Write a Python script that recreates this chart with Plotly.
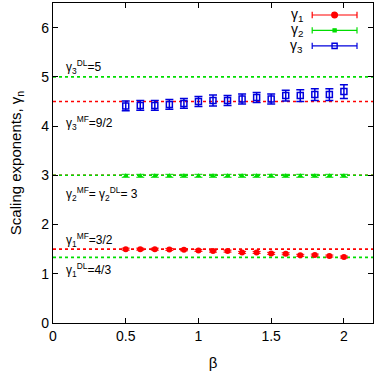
import plotly.graph_objects as go

beta = [0.5, 0.6, 0.7, 0.8, 0.9, 1.0, 1.1, 1.2, 1.3, 1.4, 1.5, 1.6, 1.7, 1.8, 1.9, 2.0]
gamma1 = [1.50, 1.50, 1.50, 1.495, 1.487, 1.475, 1.46, 1.46, 1.434, 1.434, 1.414, 1.406, 1.375, 1.38, 1.36, 1.34]
gamma1_err = [0.02] * 16
gamma2 = [2.99] * 16
gamma2_err = [0.03] * 16
gamma3 = [4.41, 4.42, 4.42, 4.44, 4.46, 4.50, 4.52, 4.52, 4.55, 4.58, 4.55, 4.62, 4.62, 4.64, 4.64, 4.70]
gamma3_err = [0.10, 0.10, 0.10, 0.10, 0.10, 0.10, 0.11, 0.10, 0.10, 0.10, 0.10, 0.11, 0.12, 0.12, 0.12, 0.14]

ref_values = [5.0, 4.5, 3.0, 3.0, 1.5, 4.0 / 3.0]
ref_colors = ["#00dd00", "#ff0000", "#ff0000", "#00dd00", "#ff0000", "#00dd00"]

labels = ["γ<sub>3</sub><sup>DL</sup>=5", "γ<sub>3</sub><sup>MF</sup>=9/2",
          "γ<sub>2</sub><sup>MF</sup>= γ<sub>2</sub><sup>DL</sup>= 3",
          "γ<sub>1</sub><sup>MF</sup>=3/2", "γ<sub>1</sub><sup>DL</sup>=4/3"]
label_y = [5.19, 4.06, 2.62, 1.68, 1.07]

series_names = ["γ<sub>1</sub>", "γ<sub>2</sub>", "γ<sub>3</sub>"]
colors = ["#ff0000", "#00dd00", "#0000dd"]

FONT = "Liberation Sans, Arial, sans-serif"

fig = go.Figure()

for v, c in zip(ref_values, ref_colors):
    fig.add_shape(type="line", xref="paper", x0=0, x1=1, yref="y", y0=v, y1=v,
                  line=dict(color=c, width=1.6, dash="dot"), layer="below")

fig.add_trace(go.Scatter(x=beta, y=gamma1, mode="markers",
                         marker=dict(color=colors[0], size=6, symbol="circle"),
                         error_y=dict(type="data", array=gamma1_err, color=colors[0], thickness=1, width=4),
                         showlegend=False))
fig.add_trace(go.Scatter(x=beta, y=gamma2, mode="markers",
                         marker=dict(color=colors[1], size=5, symbol="triangle-up"),
                         error_y=dict(type="data", array=gamma2_err, color=colors[1], thickness=1, width=4),
                         showlegend=False))
fig.add_trace(go.Scatter(x=beta, y=gamma3, mode="markers",
                         marker=dict(color="rgba(0,0,0,0)", size=6, symbol="square",
                                     line=dict(color=colors[2], width=1.5)),
                         error_y=dict(type="data", array=gamma3_err, color=colors[2], thickness=1.5, width=4),
                         showlegend=False))

for t, y in zip(labels, label_y):
    fig.add_annotation(x=0.075, y=y, xref="x", yref="y", text=t, showarrow=False,
                       xanchor="left", yanchor="middle", font=dict(size=12, color="black", family=FONT))

# manual legend (gnuplot style: label left, sample right)
leg_y = [0.9625, 0.9145, 0.866]
for i, (name, c, ly) in enumerate(zip(series_names, colors, leg_y)):
    fig.add_annotation(x=0.785, y=ly, xref="paper", yref="paper", text=name, showarrow=False,
                       xanchor="right", yanchor="middle", font=dict(size=14, color="black", family=FONT),
                       borderpad=0)
    fig.add_shape(type="line", xref="paper", yref="paper", x0=0.81, x1=0.95, y0=ly, y1=ly,
                  line=dict(color=c, width=1.2))
    for xe in (0.81, 0.95):
        fig.add_shape(type="line", xref="paper", yref="paper", x0=xe, x1=xe, y0=ly - 0.01, y1=ly + 0.01,
                      line=dict(color=c, width=1.2))
    if i == 0:
        fig.add_shape(type="circle", xref="paper", yref="paper", x0=0.871, x1=0.889, y0=ly - 0.009, y1=ly + 0.009,
                      line=dict(color=c, width=1.2), fillcolor=c)
    elif i == 1:
        fig.add_shape(type="rect", xref="paper", yref="paper", x0=0.875, x1=0.885, y0=ly - 0.005, y1=ly + 0.005,
                      line=dict(color=c, width=1.2), fillcolor=c)
    else:
        fig.add_shape(type="rect", xref="paper", yref="paper", x0=0.872, x1=0.888, y0=ly - 0.008, y1=ly + 0.008,
                      line=dict(color=c, width=1.4), fillcolor="rgba(0,0,0,0)")

axis_common = dict(showline=True, mirror="ticks", linecolor="black", linewidth=1.2,
                   ticks="inside", ticklen=5, tickcolor="black", showgrid=False, zeroline=False,
                   tickfont=dict(size=14, color="black", family=FONT))

fig.update_layout(
    width=378, height=372,
    margin=dict(l=53, r=5, t=3, b=49),
    paper_bgcolor="white", plot_bgcolor="white",
    xaxis=dict(range=[0, 2.2], tickvals=[0, 0.5, 1, 1.5, 2], ticktext=["0", "0.5", "1", "1.5", "2"],
               title=dict(text="β", font=dict(size=15, color="black", family=FONT), standoff=14),
               **axis_common),
    yaxis=dict(range=[0, 6.5], tickvals=[0, 1, 2, 3, 4, 5, 6],
               title=dict(text="Scaling exponents, γ<sub>n</sub>", font=dict(size=15, color="black", family=FONT),
                          standoff=16),
               **axis_common),
    showlegend=False,
)

fig.write_html("out.html")
